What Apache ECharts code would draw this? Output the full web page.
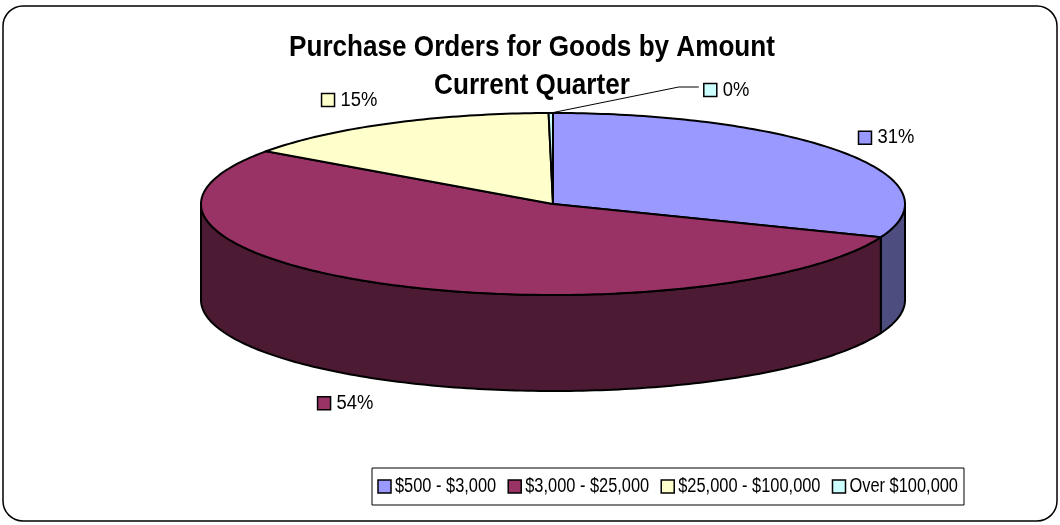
<!DOCTYPE html>
<html>
<head>
<meta charset="utf-8">
<script src="https://cdn.jsdelivr.net/npm/echarts@6/dist/echarts.min.js"></script>
<style>
  html, body { margin: 0; padding: 0; background: #fff; }
  #chart { width: 1060px; height: 525px; }
</style>
</head>
<body>
<div id="chart"></div>
<script>
// chart data
const titleLines = ["Purchase Orders for Goods by Amount", "Current Quarter"];
const categories = ["$500 - $3,000", "$3,000 - $25,000", "$25,000 - $100,000", "Over $100,000"];
const values = [31, 54, 15, 0.2];

// styles
const topColors = ["#9999FF", "#993366", "#FFFFCC", "#CCFFFF"];
const sideColors = ["#4D4D80", "#4D1A33", "#808066", "#668080"];
const FONT = "'Liberation Sans', Arial, sans-serif";
const NARROW = 0.82; // squeeze to look like Arial Narrow

// pie geometry (3d ellipse)
const CX = 553, CY = 204, RX = 352, RY = 91, DEPTH = 96;
// x-nudge for the tiny slice label that gets a leader line
const labelNudge = [0, 0, 0, 177];

const ctx = document.createElement("canvas").getContext("2d");
function textW(str, size, weight) {
  ctx.font = (weight || "normal") + " " + size + "px " + FONT;
  return ctx.measureText(str).width;
}

const total = values.reduce((a, b) => a + b, 0);
const starts = [];
let acc = 0;
for (let v of values) {
  starts.push(acc / total * Math.PI * 2);
  acc += v;
}

// theta: clockwise from 12 o'clock
function pt(theta, k, dy) {
  return [CX + RX * k * Math.sin(theta), CY - RY * k * Math.cos(theta) + (dy || 0)];
}
function arc(a0, a1, dy) {
  let n = Math.max(2, Math.ceil((a1 - a0) / (Math.PI / 180)));
  let pts = [];
  for (let j = 0; j <= n; j++) {
    pts.push(pt(a0 + (a1 - a0) * j / n, 1, dy));
  }
  return pts;
}

// little square + text, left edge at x, vertically centred on y
function keyItem(x, y, color, str, size, squeeze, gap) {
  return [
    {
      type: "rect",
      z: 2,
      z2: 5,
      shape: { x: x, y: y - 6.5, width: 13, height: 13 },
      style: { fill: color, stroke: "#000", lineWidth: 1.5 }
    },
    {
      type: "text",
      z: 2,
      z2: 5,
      x: x + 13 + gap,
      y: y,
      scaleX: squeeze,
      style: { text: str, x: 0, y: 0, align: "left", verticalAlign: "middle",
               fontFamily: FONT, fontSize: size, fill: "#000" }
    }
  ];
}
function keyWidth(str, size, squeeze, gap) {
  return 13 + gap + textW(str, size) * squeeze;
}

const LBL_SIZE = 20, LBL_SQ = 0.92, LBL_GAP = 6;

function renderSlice(i) {
  return function (params, api) {
    let a0 = starts[i];
    let a1 = a0 + values[i] / total * Math.PI * 2;
    let children = [];

    // visible side wall (front half: 90deg..270deg)
    let s = Math.max(a0, Math.PI / 2), e = Math.min(a1, Math.PI * 1.5);
    if (e > s) {
      let top = arc(s, e, 0);
      let bottom = arc(s, e, DEPTH).reverse();
      children.push({
        type: "polygon",
        z2: 1,
        shape: { points: top.concat(bottom) },
        style: { fill: sideColors[i], stroke: "#000", lineWidth: 2, lineJoin: "round" }
      });
    }

    // top face
    children.push({
      type: "polygon",
      z2: 2,
      shape: { points: [[CX, CY]].concat(arc(a0, a1, 0)) },
      style: { fill: topColors[i], stroke: "#000", lineWidth: 2, lineJoin: "round" }
    });

    // label
    let m = (a0 + a1) / 2;
    let pct = Math.round(values[i] / total * 100) + "%";
    let lower = Math.cos(m) < 0 ? DEPTH : 0;
    let w = keyWidth(pct, LBL_SIZE, LBL_SQ, LBL_GAP);
    let side = Math.sin(m) >= 0 ? 1 : -1;
    let lx = CX + RX * 1.02 * Math.sin(m) + side * 0.66 * w - w / 2;
    let ly = CY - RY * 1.29 * Math.cos(m) + lower;
    if (labelNudge[i]) {
      let edge = pt(m, 1, 0);
      lx = edge[0] + labelNudge[i] - 24;
      ly = edge[1] - 23;
      children.push({
        type: "polyline",
        z2: 3,
        shape: { points: [edge, [lx - 25, ly - 3], [lx - 5, ly - 3]] },
        style: { stroke: "#000", lineWidth: 1, fill: null }
      });
    }
    children = children.concat(keyItem(lx, ly, topColors[i], pct, LBL_SIZE, LBL_SQ, LBL_GAP));
    return { type: "group", children: children };
  };
}

// legend box drawn as graphic so the narrow text fits
function buildLegend() {
  const left = 372, top = 468, height = 37, padX = 6, gap = 12;
  let items = [];
  let x = left + padX;
  categories.forEach((name, i) => {
    items = items.concat(keyItem(x, top + height / 2, topColors[i], name, 20, NARROW, 4));
    x += keyWidth(name, 20, NARROW, 4) + gap;
  });
  let width = x - gap + padX - left;
  return [{
    type: "rect",
    z: 1,
    silent: true,
    shape: { x: left, y: top, width: width, height: height },
    style: { fill: "#fff", stroke: "#000", lineWidth: 1 }
  }].concat(items);
}

const chart = echarts.init(document.getElementById("chart"));
chart.setOption({
  backgroundColor: "#fff",
  animation: false,
  graphic: [{
    type: "rect",
    z: -10,
    silent: true,
    shape: { x: 3, y: 6, width: 1054, height: 515, r: 20 },
    style: { fill: "#fff", stroke: "#000", lineWidth: 1.5 }
  }].concat(titleLines.map((t, j) => ({
    type: "text",
    z: 5,
    silent: true,
    x: 532,
    y: 48 + j * 38,
    scaleX: 0.87,
    style: { text: t, x: 0, y: 0, align: "center", verticalAlign: "middle",
             fontFamily: FONT, fontSize: 30, fontWeight: "bold", fill: "#000" }
  }))).concat(buildLegend()),
  series: categories.map((name, i) => ({
    type: "custom",
    name: name,
    coordinateSystem: "none",
    silent: true,
    itemStyle: { color: topColors[i] },
    renderItem: renderSlice(i),
    data: [[values[i]]]
  }))
});
</script>
</body>
</html>
